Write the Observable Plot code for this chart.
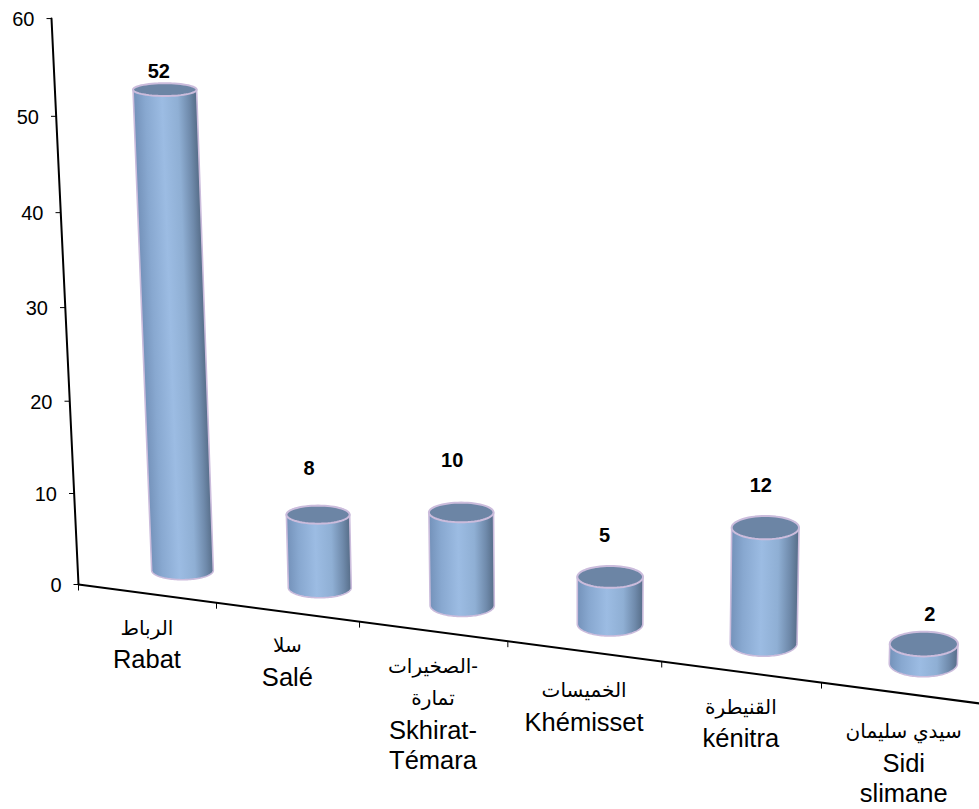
<!DOCTYPE html>
<html>
<head>
<meta charset="utf-8">
<style>html,body{margin:0;padding:0;background:#fff}svg{display:block}</style>
<script src="https://cdn.jsdelivr.net/npm/d3@7"></script>
<script src="https://cdn.jsdelivr.net/npm/@observablehq/plot@0.6"></script>
</head>
<body>
<script>
// ---- data ----
const namesArabic = ["الرباط", "سلا", "الصخيرات-\nتمارة", "الخميسات", "القنيطرة", "سيدي سليمان"];
const namesLatin = ["Rabat", "Salé", "Skhirat-\nTémara", "Khémisset", "kénitra", "Sidi\nslimane"];
const values = [52, 8, 10, 5, 12, 2];
const valueTicks = [0, 10, 20, 30, 40, 50, 60];

// ---- layout: perspective of the reference's 3D view ----
const labelDrop = [41, 40, 42, 46, 42, 45];
const valueNudge = [[-6, -12], [-9, -40], [-9, -45], [-5.5, -35], [-4.5, -35.5], [6, -23.5]];
const axisX = t => 78 + 135.6 * t / (1 - 0.0175 * t);
const axisY = t => 584 + (axisX(t) - 78) * 0.132;
const rise = v => 9.036 * v / (1 - 0.0007 * v);
const wallX = v => 78 - 0.45 * v;

const cyl = values.map((v, i) => {
  const t = i + 0.5;
  const bx = axisX(t) + 37.2 - 3.2 * t;
  const by = axisY(t) - (22.4 + 1.36 * t);
  const tx = bx + (-0.4 + 0.12 * t) * v;
  const ty = by - rise(v) * (0.977 + 0.0182 * t);
  const rb = 30.5 + 0.65 * t;
  const rt = rb * (1 + 0.0006 * v);
  const ryb = Math.min(8.8 + 0.9 * t, 13.2);
  const ryt = ryb - 0.8 - 0.04 * v;
  return {i, v, t, bx, by, tx, ty, rb, rt, ryb, ryt};
});

const ellipse = (cx, cy, rx, ry, a0 = 0, a1 = 2 * Math.PI) =>
  d3.range(0, 61).map(k => {
    const a = a0 + (a1 - a0) * k / 60;
    return {x: cx + rx * Math.cos(a), y: cy + ry * Math.sin(a)};
  });

const gradients = () => {
  const ns = "http://www.w3.org/2000/svg";
  const defs = document.createElementNS(ns, "defs");
  const stops = [[0, "#7492ba"], [0.18, "#88a8d0"], [0.45, "#9cbce3"], [0.7, "#8fafd4"], [0.88, "#6f8aab"], [1, "#566d88"]];
  for (const c of cyl) {
    const g = document.createElementNS(ns, "linearGradient");
    const mx = (c.bx + c.tx) / 2, my = (c.by + c.ty) / 2, r = (c.rb + c.rt) / 2;
    const dx = c.tx - c.bx, dy = c.ty - c.by, L = Math.hypot(dx, dy);
    const px = -dy / L, py = dx / L;
    g.setAttribute("id", "cyl" + c.i);
    g.setAttribute("gradientUnits", "userSpaceOnUse");
    g.setAttribute("x1", mx - r * px); g.setAttribute("y1", my - r * py);
    g.setAttribute("x2", mx + r * px); g.setAttribute("y2", my + r * py);
    for (const [o, col] of stops) {
      const s = document.createElementNS(ns, "stop");
      s.setAttribute("offset", o); s.setAttribute("stop-color", col);
      g.appendChild(s);
    }
    defs.appendChild(g);
  }
  return defs;
};

const latinFont = "Liberation Sans, Arial, sans-serif";
const arabicFont = "Liberation Sans, DejaVu Sans, sans-serif";
const edge = "#cbbcdc";

const labelRows = [];
namesArabic.forEach((name, i) => {
  const t = i + 0.5;
  const x = axisX(t);
  let y = axisY(t) + labelDrop[i];
  const ar = name.split("\n"), la = namesLatin[i].split("\n");
  ar.forEach((s, k) => { if (k) y += 32; labelRows.push({x, y, s, font: "ar"}); });
  y += 33.5;
  la.forEach((s, k) => { if (k) y += 30; labelRows.push({x, y, s, font: "la"}); });
});

const chart = Plot.plot({
  width: 979, height: 809, margin: 0,
  x: {domain: [0, 979], range: [0, 979], axis: null},
  y: {domain: [0, 809], range: [0, 809], axis: null},
  style: {background: "#fff"},
  marks: [
    gradients,
    // axis lines
    Plot.line([0, 60], {x: v => wallX(v), y: v => 584 - rise(v), stroke: "#000", strokeWidth: 2}),
    Plot.line([0, 6], {x: t => axisX(t), y: t => axisY(t), stroke: "#000", strokeWidth: 2}),
    // y ticks
    Plot.link(valueTicks, {x1: v => wallX(v) - 5, x2: v => wallX(v), y1: v => 584 - rise(v), y2: v => 584 - rise(v), stroke: "#000", strokeWidth: 1}),
    Plot.text(valueTicks, {x: v => wallX(v) - 17, y: v => 584 - rise(v) + 1, text: v => String(v), textAnchor: "end", fontSize: 20, fontFamily: latinFont, fill: "#000"}),
    // x ticks
    Plot.link(d3.range(0, 7), {x1: t => axisX(t), x2: t => axisX(t), y1: t => axisY(t), y2: t => axisY(t) + 6, stroke: "#000", strokeWidth: 1}),
    // cylinders
    ...cyl.flatMap(c => [
      Plot.line([
        {x: c.tx - c.rt, y: c.ty},
        ...ellipse(c.bx, c.by, c.rb, c.ryb, Math.PI, 0),
        {x: c.tx + c.rt, y: c.ty},
        {x: c.tx - c.rt, y: c.ty}
      ], {x: "x", y: "y", fill: `url(#cyl${c.i})`, stroke: edge, strokeWidth: 1.6, strokeLinejoin: "round"}),
      Plot.line(ellipse(c.tx, c.ty, c.rt, c.ryt), {x: "x", y: "y", fill: "#6c85a5", stroke: edge, strokeWidth: 2})
    ]),
    // value labels
    Plot.text(cyl, {x: c => c.tx + valueNudge[c.i][0], y: c => c.ty + valueNudge[c.i][1], text: c => String(c.v), lineAnchor: "bottom", textAnchor: "middle", fontSize: 20, fontWeight: "bold", fontFamily: latinFont, fill: "#000"}),
    // category labels
    Plot.text(labelRows.filter(d => d.font === "la"), {x: "x", y: "y", text: "s", lineAnchor: "bottom", textAnchor: "middle", fontSize: 25.5, fontFamily: latinFont, fill: "#000"}),
    Plot.text(labelRows.filter(d => d.font === "ar"), {x: "x", y: "y", text: "s", lineAnchor: "bottom", textAnchor: "middle", fontSize: 20, fontFamily: arabicFont, fill: "#000"})
  ]
});
document.body.appendChild(chart);
</script>
</body>
</html>
